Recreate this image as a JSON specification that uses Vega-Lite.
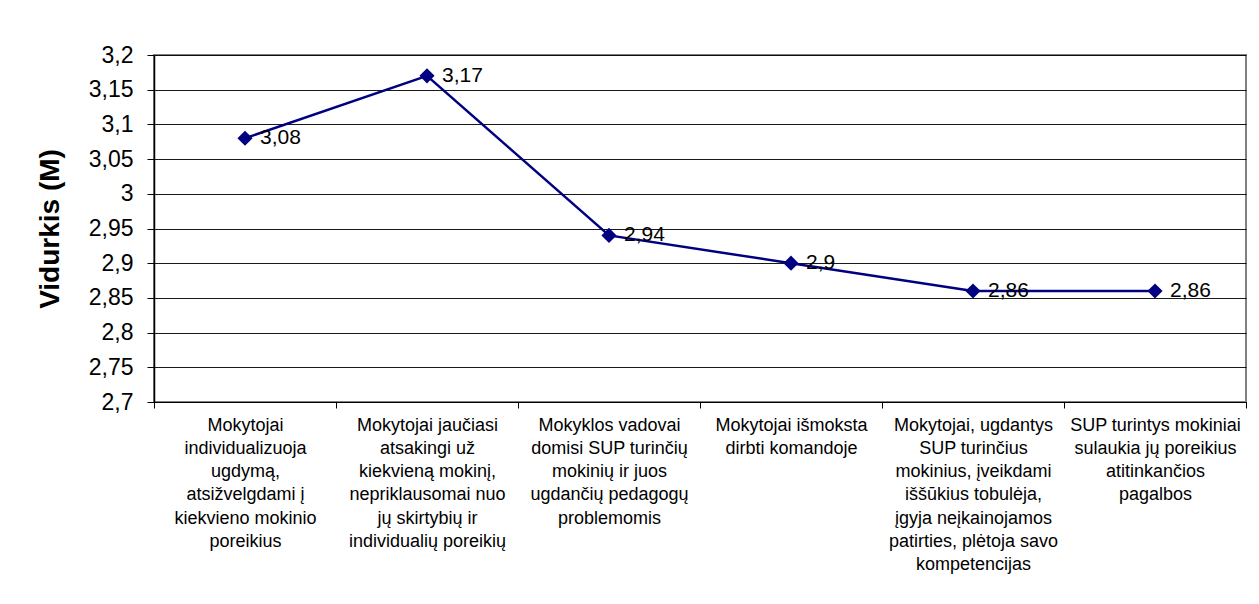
{
  "$schema": "https://vega.github.io/schema/vega-lite/v6.json",
  "width": 1092,
  "height": 347,
  "autosize": {"type": "none"},
  "padding": {"left": 154, "top": 55, "right": 13, "bottom": 202},
  "background": "white",
  "config": {
    "font": "Liberation Sans",
    "view": {"stroke": "#808080", "strokeWidth": 2},
    "locale": {"number": {"decimal": ",", "thousands": " ", "grouping": [3], "currency": ["", " €"]}}
  },
  "data": {
    "values": [
      {"k": "Mokytojai|individualizuoja|ugdymą,|atsižvelgdami į|kiekvieno mokinio|poreikius", "v": 3.08},
      {"k": "Mokytojai jaučiasi|atsakingi už|kiekvieną mokinį,|nepriklausomai nuo|jų skirtybių ir|individualių poreikių", "v": 3.17},
      {"k": "Mokyklos vadovai|domisi SUP turinčių|mokinių ir juos|ugdančių pedagogų|problemomis", "v": 2.94},
      {"k": "Mokytojai išmoksta|dirbti komandoje", "v": 2.9},
      {"k": "Mokytojai, ugdantys|SUP turinčius|mokinius, įveikdami|iššūkius tobulėja,|įgyja neįkainojamos|patirties, plėtoja savo|kompetencijas", "v": 2.86},
      {"k": "SUP turintys mokiniai|sulaukia jų poreikius|atitinkančios|pagalbos", "v": 2.86}
    ]
  },
  "encoding": {
    "x": {
      "field": "k",
      "type": "nominal",
      "sort": null,
      "bandPosition": 0.5,
      "scale": {"type": "band", "paddingInner": 0, "paddingOuter": 0},
      "axis": {
        "title": null,
        "grid": false,
        "tickBand": "extent",
        "domainColor": "#000",
        "tickColor": "#000",
        "tickSize": 6,
        "labelAngle": 0,
        "labelExpr": "split(datum.label, '|')",
        "labelFontSize": 18,
        "labelLineHeight": 23.3,
        "labelBaseline": "top",
        "labelAlign": "center",
        "labelPadding": 8,
        "labelLimit": 600,
        "labelOverlap": false,
        "labelColor": "#000"
      }
    },
    "y": {
      "field": "v",
      "type": "quantitative",
      "scale": {"domain": [2.7, 3.2], "nice": false, "zero": false},
      "axis": {
        "title": "Vidurkis (M)",
        "titleFontSize": 28,
        "titleFontWeight": "bold",
        "titleColor": "#000",
        "titlePadding": 24,
        "values": [2.7, 2.75, 2.8, 2.85, 2.9, 2.95, 3.0, 3.05, 3.1, 3.15, 3.2],
        "format": ".2~f",
        "labelFontSize": 23,
        "labelColor": "#000",
        "labelPadding": 14,
        "tickSize": 7,
        "tickColor": "#000",
        "domainColor": "#000",
        "domainWidth": 1.5,
        "gridColor": "#000",
        "gridWidth": 1,
        "gridOpacity": 0.9
      }
    }
  },
  "layer": [
    {"mark": {"type": "line", "color": "#000080", "strokeWidth": 2.5}},
    {"mark": {"type": "point", "shape": "diamond", "size": 230, "filled": true, "opacity": 1, "color": "#000080"}},
    {
      "mark": {"type": "text", "align": "left", "baseline": "middle", "dx": 15, "fontSize": 21, "color": "#000"},
      "encoding": {"text": {"field": "v", "type": "quantitative", "format": ".2~f"}}
    }
  ]
}
